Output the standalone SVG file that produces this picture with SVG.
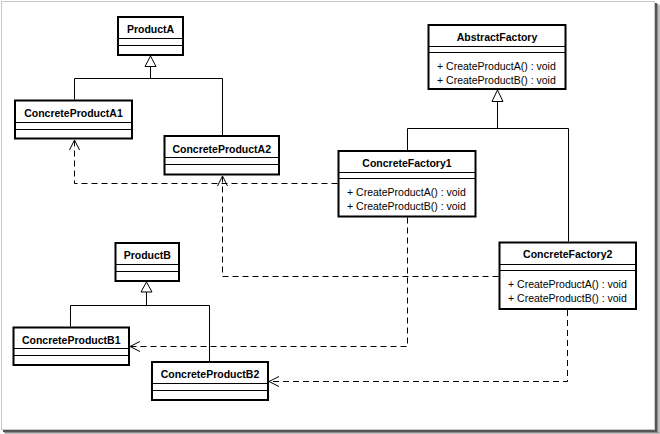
<svg xmlns="http://www.w3.org/2000/svg" width="660" height="434" viewBox="0 0 660 434">
<style>
.box{fill:#fff;stroke:#000;stroke-width:2}
.div{stroke:#000;stroke-width:1}
.title{font-family:"Liberation Sans",Arial,sans-serif;font-size:10.5px;font-weight:bold;text-anchor:middle;fill:#000}
.op{font-family:"Liberation Sans",Arial,sans-serif;font-size:10.5px;fill:#000}
.gen{fill:none;stroke:#000;stroke-width:1}
.tri{fill:#fff;stroke:#000;stroke-width:1}
.dep{fill:none;stroke:#000;stroke-width:1;stroke-dasharray:6 4}
.head{fill:none;stroke:#000;stroke-width:1}
</style>
<rect x="0" y="0" width="660" height="434" fill="#fff"/>
<rect x="1.5" y="1.5" width="653" height="428" fill="#fff" stroke="#c8c8c8" stroke-width="1"/>
<rect x="655" y="3" width="2" height="429" fill="#555"/>
<rect x="657" y="4" width="1.5" height="429" fill="#8a8a8a"/>
<rect x="658.5" y="5" width="1.5" height="429" fill="#c0c0c0"/>
<rect x="3" y="430" width="654" height="2" fill="#555"/>
<rect x="4" y="432" width="654.5" height="1" fill="#8a8a8a"/>
<rect x="5" y="433" width="655" height="1" fill="#c0c0c0"/>

<g id="connectors">
  <g id="gen-a">
    <polyline class="gen" points="150.5,66.5 150.5,78.5"/>
    <polyline class="gen" points="74.5,99.5 74.5,78.5 222.5,78.5 222.5,135"/>
    <polygon class="tri" points="150.5,56 145,66.5 156,66.5"/>
  </g>
  <g id="gen-b">
    <polyline class="gen" points="146.5,292 146.5,305.5"/>
    <polyline class="gen" points="70.5,326.5 70.5,305.5 209.5,305.5 209.5,361"/>
    <polygon class="tri" points="146.5,282 141,292 152,292"/>
  </g>
  <g id="gen-f">
    <polyline class="gen" points="497.5,101.5 497.5,128.5"/>
    <polyline class="gen" points="407.5,150 407.5,128.5 568.5,128.5 568.5,241.5"/>
    <polygon class="tri" points="497.5,90 492,101.5 503,101.5"/>
  </g>
  <g id="dep-cf1-a1">
    <polyline class="dep" points="337.5,183.5 74.5,183.5 74.5,140"/>
    <polyline class="head" points="69.5,150 74.5,140 79.5,150"/>
  </g>
  <g id="dep-cf2-a2">
    <polyline class="dep" points="498.5,276.5 222.5,276.5 222.5,176"/>
    <polyline class="head" points="217.5,186 222.5,176 227.5,186"/>
  </g>
  <g id="dep-cf1-b1">
    <polyline class="dep" points="407.5,217.5 407.5,346.5 130,346.5"/>
    <polyline class="head" points="140,341.5 130,346.5 140,351.5"/>
  </g>
  <g id="dep-cf2-b2">
    <polyline class="dep" points="567.5,310 567.5,381.5 269,381.5"/>
    <polyline class="head" points="279,376.5 269,381.5 279,386.5"/>
  </g>
</g>

<g id="ProductA">
  <rect class="box" x="118" y="17" width="65" height="38"/>
  <line class="div" x1="118" y1="38.5" x2="183" y2="38.5"/>
  <line class="div" x1="118" y1="45.5" x2="183" y2="45.5"/>
  <text class="title" x="150.5" y="32.5">ProductA</text>
</g>
<g id="ConcreteProductA1">
  <rect class="box" x="15" y="100.5" width="117" height="38"/>
  <line class="div" x1="15" y1="122.5" x2="132" y2="122.5"/>
  <line class="div" x1="15" y1="129.5" x2="132" y2="129.5"/>
  <text class="title" x="73.5" y="116.5">ConcreteProductA1</text>
</g>
<g id="ConcreteProductA2">
  <rect class="box" x="164.5" y="136" width="114.5" height="38.5"/>
  <line class="div" x1="164.5" y1="157.5" x2="279" y2="157.5"/>
  <line class="div" x1="164.5" y1="164.5" x2="279" y2="164.5"/>
  <text class="title" x="221.75" y="152.5">ConcreteProductA2</text>
</g>
<g id="ProductB">
  <rect class="box" x="115.5" y="243" width="63.5" height="38"/>
  <line class="div" x1="115.5" y1="264.5" x2="179" y2="264.5"/>
  <line class="div" x1="115.5" y1="271.5" x2="179" y2="271.5"/>
  <text class="title" x="147.25" y="259">ProductB</text>
</g>
<g id="ConcreteProductB1">
  <rect class="box" x="13.5" y="327.5" width="115.5" height="37.5"/>
  <line class="div" x1="13.5" y1="348.5" x2="129" y2="348.5"/>
  <line class="div" x1="13.5" y1="355.5" x2="129" y2="355.5"/>
  <text class="title" x="71.25" y="343.5">ConcreteProductB1</text>
</g>
<g id="ConcreteProductB2">
  <rect class="box" x="152" y="362" width="116" height="38"/>
  <line class="div" x1="152" y1="383.5" x2="268" y2="383.5"/>
  <line class="div" x1="152" y1="390.5" x2="268" y2="390.5"/>
  <text class="title" x="210" y="378">ConcreteProductB2</text>
</g>
<g id="AbstractFactory">
  <rect class="box" x="428.5" y="25" width="137" height="64"/>
  <line class="div" x1="428.5" y1="46.5" x2="565.5" y2="46.5"/>
  <line class="div" x1="428.5" y1="52.5" x2="565.5" y2="52.5"/>
  <text class="title" x="497" y="40.5">AbstractFactory</text>
  <text class="op" x="437" y="69.5">+ CreateProductA() : void</text>
  <text class="op" x="437" y="84">+ CreateProductB() : void</text>
</g>
<g id="ConcreteFactory1">
  <rect class="box" x="338.5" y="151" width="137" height="65.5"/>
  <line class="div" x1="338.5" y1="172.5" x2="475.5" y2="172.5"/>
  <line class="div" x1="338.5" y1="178.5" x2="475.5" y2="178.5"/>
  <text class="title" x="407" y="166.5">ConcreteFactory1</text>
  <text class="op" x="347" y="196">+ CreateProductA() : void</text>
  <text class="op" x="347" y="210">+ CreateProductB() : void</text>
</g>
<g id="ConcreteFactory2">
  <rect class="box" x="499.5" y="242.5" width="136.5" height="66.5"/>
  <line class="div" x1="499.5" y1="264.5" x2="636" y2="264.5"/>
  <line class="div" x1="499.5" y1="270.5" x2="636" y2="270.5"/>
  <text class="title" x="567.75" y="258">ConcreteFactory2</text>
  <text class="op" x="508" y="288">+ CreateProductA() : void</text>
  <text class="op" x="508" y="302">+ CreateProductB() : void</text>
</g>
</svg>
